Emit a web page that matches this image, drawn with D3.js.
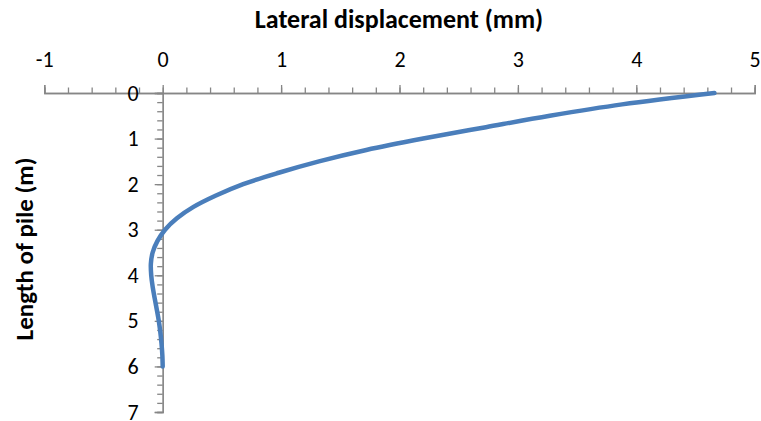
<!DOCTYPE html>
<html>
<head>
<meta charset="utf-8">
<script src="https://cdn.jsdelivr.net/npm/d3@7"></script>
<style>
  html, body { margin: 0; padding: 0; background: #fff; }
  svg { display: block; font-family: Carlito, Lato, "Open Sans", sans-serif; }
</style>
</head>
<body>
<svg id="chart" width="761" height="421"></svg>
<script>
// Pile deflection profile: depth below pile head (m) vs lateral displacement (mm)
const depth = [0, 0.25, 0.5, 0.75, 1.0, 1.25, 1.5, 1.75, 2.0, 2.25, 2.5, 2.75, 3.0,
               3.25, 3.5, 3.75, 4.0, 4.25, 4.5, 4.75, 5.0, 5.25, 5.5, 5.75, 6.0];
const displacement = [4.66, 3.88, 3.27, 2.73, 2.20, 1.72, 1.32, 0.98, 0.68, 0.45, 0.26, 0.12, 0.02,
                      -0.045, -0.085, -0.10, -0.097, -0.085, -0.068, -0.05, -0.033, -0.02, -0.01, -0.003, 0.0];
const xTicks = [-1, 0, 1, 2, 3, 4, 5];
const yTicks = [0, 1, 2, 3, 4, 5, 6, 7];
const xTitle = "Lateral displacement (mm)";
const yTitle = "Length of pile (m)";

const svg = d3.select("#chart");
const axisColor = "#868686";
const fontStack = "Carlito, Lato, 'Open Sans', sans-serif";

const x = d3.scaleLinear().domain([-1, 5]).range([44.3, 754.7]);
const y = d3.scaleLinear().domain([0, 7]).range([93, 412]);

const minorX = d3.range(-1, 5.0001, 0.2).map(v => +v.toFixed(1));
const minorY = d3.range(0, 7.0001, 0.2).map(v => +v.toFixed(1));
const plain = d => String(d);

// horizontal axis along the top, crossing the vertical axis at depth 0
const gx = svg.append("g").attr("transform", `translate(0,${y(0)})`);
gx.append("g").call(d3.axisTop(x).tickValues(minorX).tickSize(5.5).tickFormat(""));
gx.append("g").call(d3.axisTop(x).tickValues(xTicks).tickSize(8).tickPadding(18).tickFormat(plain));

// vertical axis at zero displacement
const gy = svg.append("g").attr("transform", `translate(${x(0)},0)`);
gy.append("g").call(d3.axisLeft(y).tickValues(minorY).tickSize(5.5).tickFormat(""));
gy.append("g").call(d3.axisLeft(y).tickValues(yTicks).tickSize(8).tickPadding(16).tickFormat(plain));

svg.selectAll(".domain").attr("stroke", axisColor).attr("stroke-width", 1.3);
svg.selectAll(".tick line").attr("stroke", axisColor).attr("stroke-width", 1.3);
svg.selectAll(".tick text")
  .attr("fill", "#000")
  .style("font-size", "22px")
  .style("font-family", fontStack);

// deflected shape
const points = depth.map((d, i) => ({ d, v: displacement[i] }));
svg.append("path")
  .datum(points)
  .attr("fill", "none")
  .attr("stroke", "#4A7EBB")
  .attr("stroke-width", 4.5)
  .attr("stroke-linecap", "round")
  .attr("d", d3.line().x(p => x(p.v)).y(p => y(p.d)).curve(d3.curveCatmullRom.alpha(0.5)));

// axis titles
svg.append("text")
  .attr("x", 399).attr("y", 28)
  .attr("text-anchor", "middle")
  .style("font-size", "26px").style("font-weight", "bold")
  .text(xTitle);

svg.append("text")
  .attr("transform", "translate(33,249) rotate(-90)")
  .attr("text-anchor", "middle")
  .style("font-size", "25px").style("font-weight", "bold")
  .text(yTitle);
</script>
</body>
</html>
